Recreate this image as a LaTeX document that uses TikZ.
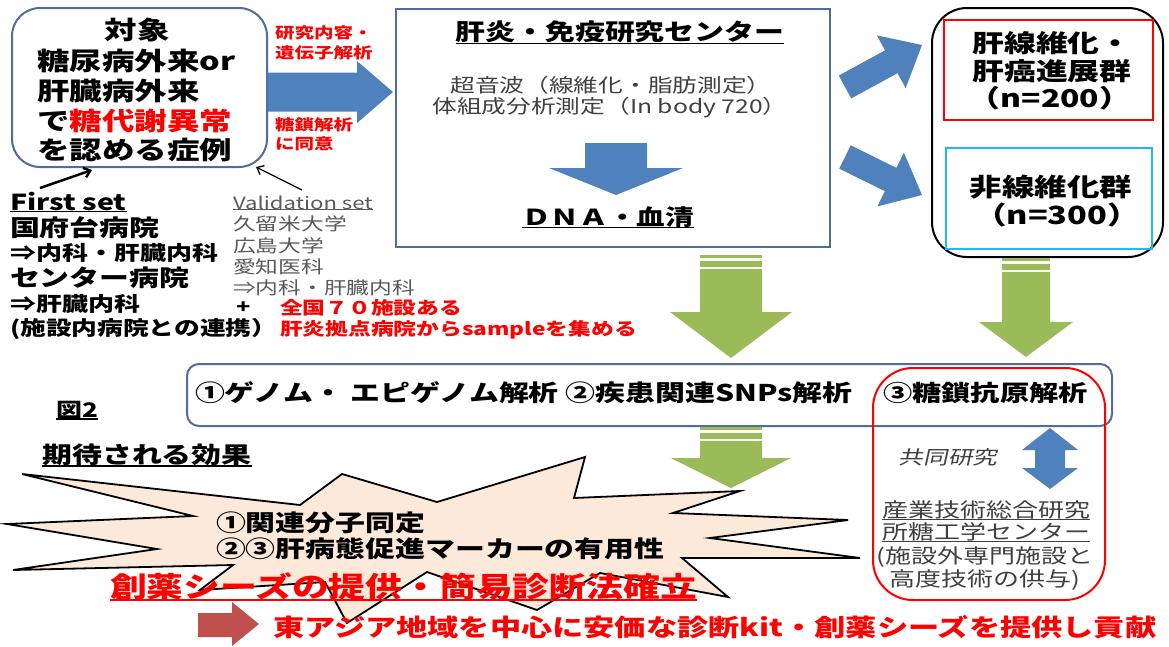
\documentclass[tikz,border=0pt]{standalone}
\usepackage{fontspec}
\setmainfont{Noto Sans CJK JP}[FakeStretch=1.3]
\newfontfamily\itcjk{Noto Sans CJK JP}[FakeStretch=1.3,FakeSlant=0.22]
\usetikzlibrary{calc,arrows.meta}
\definecolor{boxblue}{RGB}{79,109,158}
\definecolor{arrblue}{RGB}{79,129,189}
\definecolor{agreen}{RGB}{155,187,89}
\definecolor{peach}{RGB}{253,233,217}
\definecolor{cyanb}{RGB}{30,185,240}
\definecolor{brick}{RGB}{192,80,77}
\definecolor{dgray}{RGB}{64,64,64}
\definecolor{mgray}{RGB}{89,89,89}
\newcommand{\setfs}[1]{\fontsize{#1}{#1}\selectfont}
\newcommand{\blockarrow}[6]{%
  \coordinate (bat) at (#1); \coordinate (bap) at (#2);
  \coordinate (bah) at ($(bap)!#5!(bat)$);
  \path[#6] ($(bat)!#3!90:(bap)$) -- ($(bah)!#3!90:(bap)$) -- ($(bah)!#4!90:(bap)$) -- (bap)
    -- ($(bah)!#4!-90:(bap)$) -- ($(bah)!#3!-90:(bap)$) -- ($(bat)!#3!-90:(bap)$) -- cycle;}
% cx, shaft half, top, head start, head half, tip
\newcommand{\greenarrow}[6]{%
  \fill[agreen] ({#1-#2},#3) rectangle ({#1+#2},{#3+3});
  \fill[agreen] ({#1-#2},{#3+6}) rectangle ({#1+#2},{#3+12});
  \fill[agreen] ({#1-#2},{#3+14}) -- ({#1+#2},{#3+14}) -- ({#1+#2},#4) -- ({#1+#5},#4)
    -- (#1,#6) -- ({#1-#5},#4) -- ({#1-#2},#4) -- cycle;}
\tikzset{
  bt/.style={inner sep=0pt, outer sep=0pt},
  boxline/.style={draw=boxblue, line width=2pt, inner sep=0pt},
  ul/.style={line width=1.2pt},
  barb/.style={-{Straight Barb[length=6pt,width=10pt]}},
}
\begin{document}
\begin{tikzpicture}[x=1pt,y=-1pt]
\useasboundingbox[fill=white] (0,0) rectangle (1169,646);

% ---------- top-left box ----------
\node[boxline, rounded corners=28pt, minimum width=255, minimum height=159] (tgt) at (139.5,87.5) {};
\node[bt, font=\setfs{25}\bfseries] (t0) at (137,30) {対象};
\node[bt, anchor=west, font=\setfs{25}\bfseries] (t1) at (37,61) {糖尿病外来or};
\node[bt, anchor=west, font=\setfs{25}\bfseries] (t2) at (37,91) {肝臓病外来};
\node[bt, anchor=west, font=\setfs{25}\bfseries] (t3) at (37,121) {で\textcolor{red}{糖代謝異常}};
\node[bt, anchor=west, font=\setfs{25}\bfseries] (t4) at (37,150) {を認める症例};

% red labels
\node[bt, anchor=west, text=red, font=\setfs{15}\bfseries] (r1) at (275,33) {研究内容・};
\node[bt, anchor=west, text=red, font=\setfs{15}\bfseries] (r2) at (275,53) {遺伝子解析};
\node[bt, anchor=west, text=red, font=\setfs{15}\bfseries] (r3) at (275,125) {糖鎖解析};
\node[bt, anchor=west, text=red, font=\setfs{15}\bfseries] (r4) at (275,144) {に同意};

% blue arrow to centre
\blockarrow{268,92}{393,92}{19.5pt}{31pt}{36pt}{fill=arrblue}

% ---------- centre box ----------
\node[boxline, minimum width=434, minimum height=238] (ctr) at (613,128) {};
\node[bt, font=\setfs{23}\bfseries] (ctrT) at (620,32) {肝炎・免疫研究センター};
\draw[ul] (ctrT.south west) -- (ctrT.south east);
\node[bt, text=dgray, font=\setfs{19}] (us) at (611,85) {超音波（線維化・脂肪測定）};
\node[bt, text=dgray, font=\setfs{19}] (ib) at (610,108) {体組成分析測定（In body 720）};
\blockarrow{616,143}{616,195}{31pt}{67pt}{27pt}{fill=arrblue}
\node[bt, font=\setfs{22}\bfseries] (dna) at (608,217) {ＤＮＡ・血清};
\draw[ul] (dna.south west) -- (dna.south east);

% diagonal arrows
\blockarrow{845,87}{922,45}{13pt}{30pt}{35pt}{fill=arrblue}
\blockarrow{845,157}{922,195}{13pt}{30pt}{35pt}{fill=arrblue}

% ---------- right groups ----------
\node[draw=black, line width=2pt, rounded corners=35pt, minimum width=231, minimum height=249, inner sep=0pt] (grp) at (1047.5,132.5) {};
\node[draw=red, line width=1.8pt, minimum width=209, minimum height=100, inner sep=0pt] (g1) at (1048.5,70) {};
\node[draw=cyanb, line width=1.8pt, minimum width=206, minimum height=101, inner sep=0pt] (g2) at (1049,198.5) {};
\node[bt, font=\setfs{24.5}\bfseries] (g1a) at (1052,43) {肝線維化・};
\node[bt, font=\setfs{24.5}\bfseries] (g1b) at (1052,71) {肝癌進展群};
\node[bt, font=\setfs{24.5}\bfseries] (g1c) at (1050,98) {（n=200）};
\node[bt, font=\setfs{25}\bfseries] (g2a) at (1051,187) {非線維化群};
\node[bt, font=\setfs{25}\bfseries] (g2b) at (1057,215) {（n=300）};

% ---------- left lists ----------
\node[bt, anchor=west, font=\setfs{22}\bfseries] (fs) at (10,202) {First set};
\draw[ul] (fs.south west) -- (fs.south east);
\node[bt, anchor=west, font=\setfs{23}\bfseries] (f1) at (10,228) {国府台病院};
\node[bt, anchor=west, font=\setfs{20}\bfseries] (f2) at (10,253) {⇒内科・肝臓内科};
\node[bt, anchor=west, font=\setfs{23}\bfseries] (f3) at (10,278) {センター病院};
\node[bt, anchor=west, font=\setfs{20}\bfseries] (f4) at (10,304) {⇒肝臓内科};
\node[bt, anchor=west, font=\setfs{19.8}\bfseries] (f5) at (10,329) {(施設内病院との連携）};

\node[bt, anchor=west, text=mgray, font=\setfs{17}] (vs) at (233,203) {Validation set};
\draw[ul, mgray] (vs.south west) -- (vs.south east);
\node[bt, anchor=west, text=mgray, font=\setfs{17.5}] (v1) at (233,224) {久留米大学};
\node[bt, anchor=west, text=mgray, font=\setfs{17.5}] (v2) at (233,246) {広島大学};
\node[bt, anchor=west, text=mgray, font=\setfs{17.5}] (v3) at (233,267) {愛知医科};
\node[bt, anchor=west, text=mgray, font=\setfs{17.5}] (v4) at (233,288) {⇒内科・肝臓内科};
\node[bt, font=\setfs{18}\bfseries] (plus) at (244,308) {+};
\node[bt, anchor=west, text=red, font=\setfs{17.5}\bfseries] (n1) at (280,308) {全国７０施設ある};
\node[bt, anchor=west, text=red, font=\setfs{17.5}\bfseries] (n2) at (280,330) {肝炎拠点病院からsampleを集める};

% arrows to target box
\coordinate (fsT) at (40,188);
\coordinate (fsH) at (92,170);
\draw[line width=2.5pt, barb] (fsT) -- (fsH);
\coordinate (vsT) at (302,190);
\coordinate (vsH) at (256,167);
\draw[line width=1.3pt, barb] (vsT) -- (vsH);

% ---------- green arrows ----------
\greenarrow{731}{31}{255}{312}{61}{358}
\greenarrow{1026}{24}{258}{322}{47}{357}

% ---------- analysis row ----------
\node[boxline, rounded corners=12pt, minimum width=925, minimum height=62] (row) at (649.5,395) {};
\node[draw=red, line width=2pt, rounded corners=40pt, minimum width=232, minimum height=232, inner sep=0pt] (col) at (989,484) {};
\node[bt, anchor=west, font=\setfs{23}\bfseries] (a12) at (195,393) {①ゲノム・ エピゲノム解析 ②疾患関連SNPs解析};
\node[bt, anchor=west, font=\setfs{22.5}\bfseries] (a3) at (883,393) {③糖鎖抗原解析};

\greenarrow{731}{31}{427}{458}{60}{488}

% double arrow
\fill[arrblue] (1050,428) -- (1078,450) -- (1065,450) -- (1065,468) -- (1078,468) -- (1050,489)
  -- (1022,468) -- (1035,468) -- (1035,450) -- (1022,450) -- cycle;
\node[bt, text=dgray, font=\setfs{19}\itcjk] (kk) at (948,457) {共同研究};
\node[bt, text=dgray, font=\setfs{20}] (s1) at (986,510) {産業技術総合研究};
\draw[ul, dgray] (s1.south west) -- (s1.south east);
\node[bt, text=dgray, font=\setfs{20}] (s2) at (986,532) {所糖工学センター};
\draw[ul, dgray] (s2.south west) -- (s2.south east);
\node[bt, text=dgray, font=\setfs{20}] (s3) at (985,557) {(施設外専門施設と};
\node[bt, text=dgray, font=\setfs{20}] (s4) at (985,580) {高度技術の供与)};

% ---------- effects ----------
\node[bt, font=\setfs{20}\bfseries] (fig) at (77,410) {図2};
\draw[ul] (fig.south west) -- (fig.south east);
\node[bt, font=\setfs{23}\bfseries] (eff) at (147,455) {期待される効果};
\draw[ul] (eff.south west) -- (eff.south east);

\filldraw[fill=peach, draw=black, line width=1.8pt, line join=miter]
  (728,597) -- (600,573) -- (537,610) -- (427,572) -- (347,623) -- (325,582) -- (200,590)
  -- (233,565) -- (13,570) -- (157,549) -- (7,524) -- (193,516) -- (22,474) -- (300,505)
  -- (342,474) -- (437,502) -- (585,457) -- (574,498) -- (740,491) -- (673,513) -- (848,520)
  -- (710,538) -- (860,558) -- (682,558) -- cycle;
\node[bt, anchor=west, font=\setfs{23}\bfseries] (e1) at (216,523) {①関連分子同定};
\node[bt, anchor=west, font=\setfs{23}\bfseries] (e2) at (216,549) {②③肝病態促進マーカーの有用性};

\node[bt, anchor=west, text=red, font=\setfs{28.3}\bfseries] (drug) at (110,587) {創薬シーズの提供・簡易診断法確立};
\draw[red, line width=2pt] ($(drug.south west)+(0,-1)$) -- ($(drug.south east)+(0,-1)$);

\fill[brick] (198,613) -- (232,613) -- (232,602) -- (259,624) -- (232,646) -- (232,637) -- (198,637) -- cycle;
\node[bt, anchor=west, text=red, font=\setfs{24}\bfseries] (ea) at (273,627) {東アジア地域を中心に安価な診断kit・創薬シーズを提供し貢献};
\end{tikzpicture}
\end{document}
